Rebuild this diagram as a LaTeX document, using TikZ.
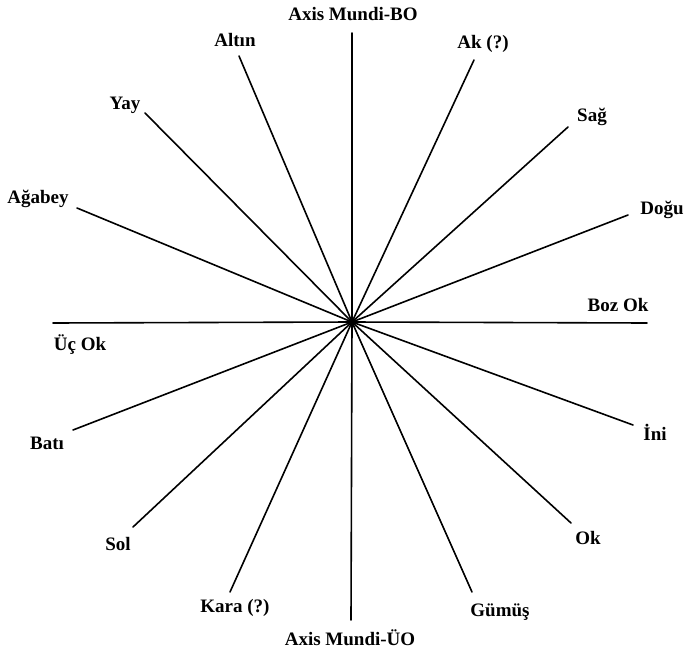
\documentclass[tikz,border=0pt]{standalone}
\usepackage{fontspec}
\setmainfont{Liberation Serif}
\begin{document}
\begin{tikzpicture}[
  x=1pt,y=-1pt,
  ray/.style={line width=1.6pt,line cap=round},
  lbl/.style={font=\fontsize{19}{21}\selectfont\bfseries,inner sep=0pt}]

  \useasboundingbox (0,0) rectangle (688,653);

  % ---- centre of the star ----
  \coordinate (c) at (352,322);

  % ---- free ends of the rays ----
  \coordinate (top) at (352,33);
  \coordinate (bot) at (351,620);
  \coordinate (lft) at (53,323);
  \coordinate (rgt) at (647,323);
  \coordinate (altin) at (239,56);
  \coordinate (ak) at (474,60);
  \coordinate (yay) at (145,113);
  \coordinate (sag) at (568,127);
  \coordinate (agabey) at (77,208);
  \coordinate (dogu) at (628,215);
  \coordinate (bati) at (73,430);
  \coordinate (ini) at (633,425);
  \coordinate (sol) at (133,527);
  \coordinate (ok) at (571,523);
  \coordinate (kara) at (230,592);
  \coordinate (gumus) at (472,592);

  \foreach \e in {top,bot,lft,rgt,altin,ak,yay,sag,agabey,dogu,bati,ini,sol,ok,kara,gumus}
    \draw[ray] (c) -- (\e);

  % ---- labels ----
  \node[lbl] (l-top) at (353,14) {Axis Mundi-BO};
  \node[lbl] (l-bot) at (350,638) {Axis Mundi-ÜO};
  \node[lbl] (l-lft) at (80,345) {Üç Ok};
  \node[lbl] (l-rgt) at (618,305) {Boz Ok};
  \node[lbl] (l-altin) at (235,40) {Altın};
  \node[lbl] (l-ak) at (483,44) {Ak (?)};
  \node[lbl] (l-yay) at (125,105) {Yay};
  \node[lbl] (l-sag) at (592,117) {Sağ};
  \node[lbl] (l-agabey) at (38,199) {Ağabey};
  \node[lbl] (l-dogu) at (662,210) {Doğu};
  \node[lbl] (l-bati) at (47,443) {Batı};
  \node[lbl] (l-ini) at (655,432) {İni};
  \node[lbl] (l-sol) at (118,544) {Sol};
  \node[lbl] (l-ok) at (588,538) {Ok};
  \node[lbl] (l-kara) at (235,608) {Kara (?)};
  \node[lbl] (l-gumus) at (500,612) {Gümüş};
\end{tikzpicture}
\end{document}
